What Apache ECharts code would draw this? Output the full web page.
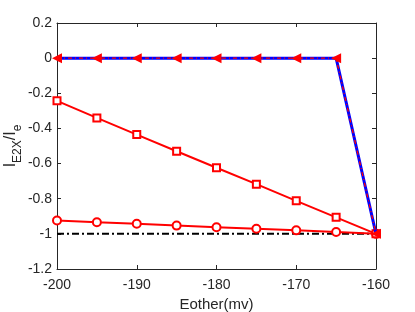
<!DOCTYPE html>
<html><head><meta charset="utf-8">
<script src="https://cdn.jsdelivr.net/npm/echarts@6/dist/echarts.min.js"></script>
<style>html,body{margin:0;padding:0;background:#fff}#c{width:415px;height:312px}</style>
</head><body><div id="c"></div>
<script>
const xValues = [-200, -195, -190, -185, -180, -175, -170, -165, -160];
const stepSeries = [0, 0, 0, 0, 0, 0, 0, 0, -1];
const squareSeries = [-0.243, -0.34, -0.435, -0.53, -0.624, -0.717, -0.812, -0.906, -1];
const circleSeries = [-0.924, -0.934, -0.942, -0.953, -0.962, -0.971, -0.98, -0.989, -1];
const refX = [-200, -160];
const refSeries = [-1, -1];
const xTicks = [-200, -190, -180, -170, -160];
const yTicks = [-1.2, -1, -0.8, -0.6, -0.4, -0.2, 0, 0.2];

const pairs = (xs, ys) => xs.map((x, i) => [x, ys[i]]);
const font = 'Liberation Sans, Arial, Helvetica, sans-serif';
const axisCol = '#262626';
const fmtY = v => { const r = Math.round(v * 10) / 10; return r === 0 ? '0' : String(r); };

const chart = echarts.init(document.getElementById('c'), null, {renderer: 'canvas'});
chart.setOption({
  animation: false,
  grid: {left: 57, right: 39, top: 23, bottom: 43, containLabel: false, outerBoundsMode: 'none'},
  xAxis: [{
    type: 'value', min: xTicks[0], max: xTicks[xTicks.length - 1], interval: 10,
    name: 'Eother(mv)', nameLocation: 'middle', nameGap: 28,
    nameTextStyle: {fontFamily: font, fontSize: 15, color: axisCol},
    axisLine: {onZero: false, lineStyle: {color: axisCol, width: 1}},
    axisTick: {inside: true, length: 4, lineStyle: {color: axisCol}},
    axisLabel: {fontFamily: font, fontSize: 14, color: axisCol, margin: 9},
    splitLine: {show: false}
  }, {
    type: 'value', position: 'top', min: xTicks[0], max: xTicks[xTicks.length - 1], interval: 10,
    axisLine: {show: true, onZero: false, lineStyle: {color: axisCol, width: 1}},
    axisTick: {inside: true, length: 4, lineStyle: {color: axisCol}},
    axisLabel: {show: false}, splitLine: {show: false}
  }],
  yAxis: [{
    type: 'value', min: yTicks[0], max: yTicks[yTicks.length - 1], interval: 0.2,
    name: '{m|I}{s|E2X}{m|/I}{s|e}', nameLocation: 'middle', nameGap: 38, nameMoveOverlap: false,
    nameTextStyle: {
      fontFamily: font, color: axisCol,
      rich: {
        m: {fontFamily: font, fontSize: 16, color: axisCol, verticalAlign: 'bottom', lineHeight: 20},
        s: {fontFamily: font, fontSize: 12, color: axisCol, verticalAlign: 'bottom', lineHeight: 14, padding: [0, 0, -5, 0]}
      }
    },
    axisLine: {show: true, onZero: false, lineStyle: {color: axisCol, width: 1}},
    axisTick: {inside: true, length: 4, lineStyle: {color: axisCol}},
    axisLabel: {fontFamily: font, fontSize: 14, color: axisCol, margin: 5, formatter: fmtY},
    splitLine: {show: false}
  }, {
    type: 'value', position: 'right', min: yTicks[0], max: yTicks[yTicks.length - 1], interval: 0.2,
    axisLine: {show: true, onZero: false, lineStyle: {color: axisCol, width: 1}},
    axisTick: {inside: true, length: 4, lineStyle: {color: axisCol}},
    axisLabel: {show: false}, splitLine: {show: false}
  }],
  series: [
    {
      type: 'line', data: pairs(refX, refSeries), symbol: 'none',
      lineStyle: {color: '#000', width: 2, type: [7, 3, 2, 3]}, z: 2
    },
    {
      type: 'line', data: pairs(xValues, circleSeries), symbol: 'emptyCircle', symbolSize: 8,
      lineStyle: {color: '#ff0000', width: 2},
      itemStyle: {color: '#ff0000', borderColor: '#ff0000', borderWidth: 2}, z: 3
    },
    {
      type: 'line', data: pairs(xValues, squareSeries), symbol: 'emptyRect', symbolSize: 7,
      lineStyle: {color: '#ff0000', width: 2},
      itemStyle: {color: '#ff0000', borderColor: '#ff0000', borderWidth: 2.2}, z: 3
    },
    {
      type: 'line', data: pairs(xValues, stepSeries), symbol: 'none',
      lineStyle: {color: '#0000ff', width: 3}, z: 4
    },
    {
      type: 'line', data: pairs(xValues, stepSeries), symbol: 'triangle', symbolSize: 10, symbolRotate: 90,
      lineStyle: {color: '#ff0000', width: 1.3, type: [4, 3, 1, 3]},
      itemStyle: {color: '#ff0000'}, z: 5
    }
  ]
});
</script></body></html>
